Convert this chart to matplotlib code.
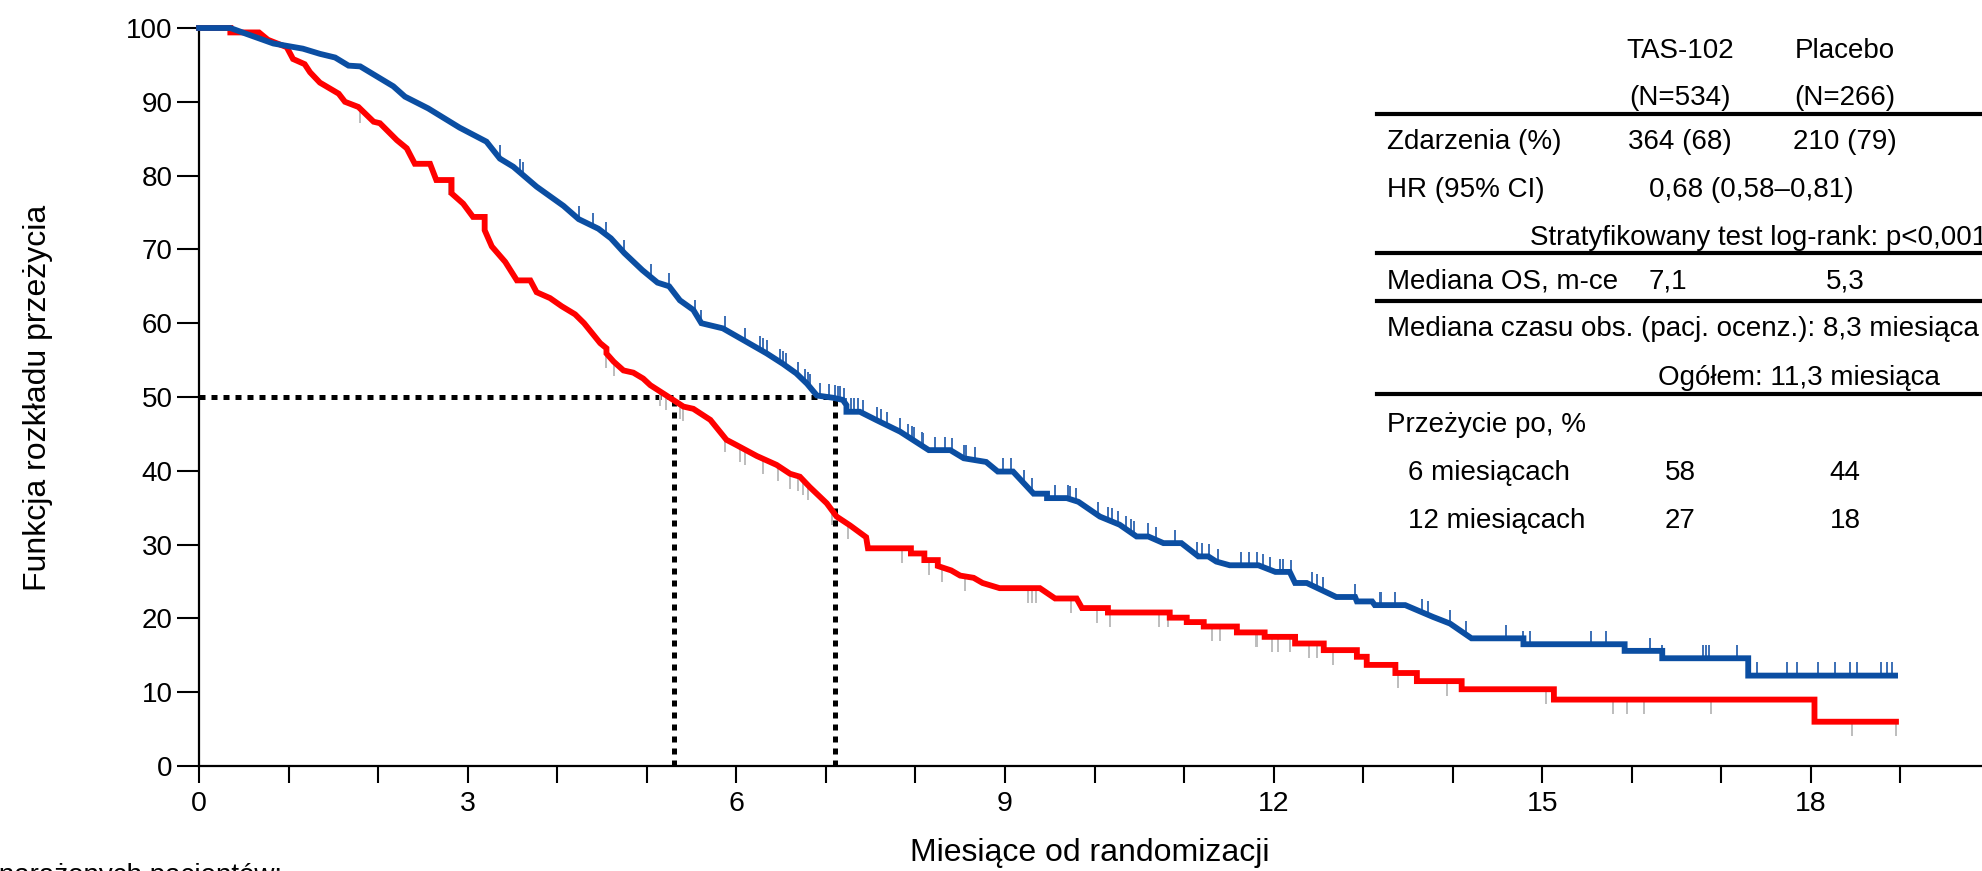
import numpy as np
import matplotlib.pyplot as plt
from matplotlib.lines import Line2D

W, H = 1982, 871

# Kaplan-Meier curves (months, % surviving)
tas_t = [0, 0.35, 0.53, 0.83, 1.16, 1.35, 1.52, 1.67, 1.80, 2.17, 2.30, 2.56, 2.91,
         3.21, 3.36, 3.51, 3.77, 4.07, 4.24, 4.46, 4.60, 4.75, 4.95, 5.12, 5.25, 5.37,
         5.52, 5.61, 5.85, 6.11, 6.34, 6.52, 6.67, 6.79, 6.90, 7.08, 7.19, 7.23, 7.23,
         7.38, 7.56, 7.83, 8.15, 8.39, 8.54, 8.79, 8.92, 9.09, 9.32, 9.47, 9.47, 9.69,
         9.82, 10.06, 10.28, 10.47, 10.60, 10.77, 10.97, 11.16, 11.27, 11.36, 11.51,
         11.83, 12.02, 12.18, 12.24, 12.37, 12.70, 12.91, 12.93, 13.10, 13.13, 13.47,
         13.78, 13.97, 14.21, 14.79, 14.79, 15.92, 15.92, 16.34, 16.34, 17.30, 17.30, 18.94]
tas_s = [100, 100, 99.2, 97.9, 97.2, 96.5, 96.0, 94.9, 94.8, 92.1, 90.7, 89.1, 86.5,
         84.6, 82.3, 81.2, 78.5, 75.9, 74.1, 72.8, 71.5, 69.5, 67.2, 65.5, 65.0, 63.1,
         61.8, 60.0, 59.3, 57.5, 55.9, 54.5, 53.2, 51.8, 50.2, 49.9, 49.6, 48.9, 48.0,
         48.0, 46.9, 45.3, 42.8, 42.8, 41.7, 41.2, 39.9, 39.9, 36.9, 36.9, 36.3, 36.3,
         35.8, 33.8, 32.7, 31.1, 31.1, 30.2, 30.2, 28.4, 28.4, 27.7, 27.2,
         27.2, 26.3, 26.3, 24.8, 24.8, 22.9, 22.9, 22.3, 22.3, 21.8, 21.8,
         20.2, 19.3, 17.3, 17.3, 16.5, 16.5, 15.6, 15.6, 14.6, 14.6, 12.25, 12.25]

plc_t = [0, 0.35, 0.35, 0.67, 0.77, 0.98, 1.05, 1.18, 1.24, 1.35, 1.56, 1.63, 1.78,
         1.95, 2.02, 2.21, 2.32, 2.41, 2.58, 2.65, 2.82, 2.82, 2.95, 3.06, 3.19, 3.19,
         3.27, 3.42, 3.55, 3.70, 3.77, 3.92, 4.05, 4.20, 4.30, 4.40, 4.48, 4.55, 4.55,
         4.63, 4.74, 4.85, 4.96, 5.04, 5.22, 5.41, 5.52, 5.71, 5.89, 6.00, 6.23, 6.45,
         6.60, 6.71, 6.82, 7.01, 7.12, 7.27, 7.45, 7.47, 7.95, 7.95, 8.10, 8.10, 8.25,
         8.25, 8.40, 8.50, 8.65, 8.75, 8.94, 9.39, 9.56, 9.80, 9.86, 10.15, 10.15, 10.84,
         10.84, 11.03, 11.03, 11.22, 11.22, 11.59, 11.59, 11.90, 11.90, 12.24, 12.24,
         12.56, 12.56, 12.93, 12.93, 13.04, 13.04, 13.36, 13.36, 13.60, 13.60, 14.10,
         14.10, 15.13, 15.13, 18.04, 18.04, 18.95]
plc_s = [100, 100, 99.4, 99.4, 98.4, 97.4, 95.8, 95.1, 94.0, 92.6, 91.1, 90.0, 89.3,
         87.3, 87.1, 84.8, 83.7, 81.6, 81.6, 79.4, 79.4, 77.6, 76.2, 74.4, 74.4, 72.6,
         70.4, 68.3, 65.8, 65.8, 64.2, 63.4, 62.3, 61.2, 60.0, 58.5, 57.3, 56.6, 55.9,
         54.8, 53.6, 53.3, 52.5, 51.6, 50.2, 48.7, 48.4, 46.9, 44.2, 43.5, 42.0, 40.8,
         39.6, 39.2, 37.8, 35.6, 33.8, 32.6, 31.0, 29.5, 29.5, 28.8, 28.8, 27.9, 27.9,
         27.1, 26.5, 25.8, 25.5, 24.8, 24.1, 24.1, 22.7, 22.7, 21.4, 21.4, 20.8, 20.8,
         20.1, 20.1, 19.5, 19.5, 18.9, 18.9, 18.1, 18.1, 17.5, 17.5, 16.6,
         16.6, 15.7, 15.7, 14.8, 14.8, 13.7, 13.7, 12.6, 12.6, 11.5, 11.5,
         10.4, 10.4, 9.0, 9.0, 6.0, 6.0]

# censored patients (months)
tas_cens = [3.36, 3.58, 3.62, 4.24, 4.40, 4.55, 4.75, 5.05, 5.25, 5.54, 5.61, 5.87,
            6.10, 6.26, 6.30, 6.34, 6.49, 6.52, 6.56, 6.69, 6.77, 6.80, 6.82, 6.93,
            7.03, 7.10, 7.14, 7.16, 7.20, 7.23, 7.28, 7.31, 7.36, 7.42, 7.57, 7.62,
            7.68, 7.83, 7.92, 7.96, 7.98, 8.07, 8.09, 8.22, 8.33, 8.41, 8.54, 8.57,
            8.67, 8.98, 9.07, 9.21, 9.30, 9.56, 9.70, 9.73, 9.79, 10.04, 10.15, 10.20,
            10.26, 10.35, 10.41, 10.44, 10.60, 10.69, 10.90, 11.14, 11.20, 11.28, 11.38,
            11.64, 11.73, 11.81, 11.88, 11.96, 12.07, 12.10, 12.19, 12.43, 12.48, 12.55,
            12.91, 13.19, 13.20, 13.36, 13.66, 13.72, 13.97, 14.15, 14.60, 14.79, 14.86,
            15.54, 15.71, 16.20, 16.34, 16.80, 16.83, 16.86, 17.17, 17.40, 17.73, 17.85,
            18.08, 18.27, 18.44, 18.52, 18.78, 18.85, 18.91]
plc_cens = [1.80, 2.79, 4.55, 4.63, 5.15, 5.21, 5.37, 5.41, 5.87, 6.04, 6.10, 6.30,
            6.47, 6.60, 6.69, 6.75, 6.80, 7.07, 7.25, 7.85, 8.15, 8.30, 8.55, 9.26,
            9.30, 9.35, 9.74, 10.03, 10.17, 10.72, 10.82, 11.31, 11.40, 11.80, 11.82,
            11.98, 12.05, 12.18, 12.40, 12.48, 12.66, 13.39, 13.94, 15.04, 15.79, 15.95,
            16.14, 16.89, 18.46, 18.95]

med_tas = 7.1
med_plc = 5.3

x_ticks = list(range(0, 20))
x_labels = [str(v) if v % 3 == 0 else "" for v in x_ticks]
y_ticks = list(range(0, 101, 10))

# table text
col_heads = ["TAS-102", "Placebo"]
col_n = ["(N=534)", "(N=266)"]
events = ["364 (68)", "210 (79)"]
hr_text = "0,68 (0,58–0,81)"
logrank = "Stratyfikowany test log-rank: p<0,001"
median_os = ["7,1", "5,3"]
followup = "Mediana czasu obs. (pacj. ocenz.): 8,3 miesiąca"
overall = "Ogółem: 11,3 miesiąca"
surv_rows = ["6 miesiącach", "12 miesiącach"]
surv_tas = ["58", "27"]
surv_plc = ["44", "18"]

blue = "#0b4ea2"
red = "#ff0000"
arial = "Liberation Sans"


def fx(px):
    return px / W


def fy(py):
    return 1 - py / H


fig = plt.figure(figsize=(W / 100, H / 100), dpi=100)
ax = fig.add_axes([fx(199), fy(766), (W - 199) / W, (766 - 28) / H])
ax.set_xlim(0, (W - 199) / 89.55)
ax.set_ylim(0, 100)
for side in ["top", "right"]:
    ax.spines[side].set_visible(False)
for side in ["left", "bottom"]:
    ax.spines[side].set_linewidth(1.6)
ax.spines["left"].set_bounds(0, 100)

# median reference lines
dots = dict(color="black", lw=3.6, linestyle=(0, (1.2, 1.2)), dash_capstyle="butt", zorder=1)
ax.plot([0, med_tas], [50, 50], **dots)
ax.plot([med_plc, med_plc], [0, 50], **dots)
ax.plot([med_tas, med_tas], [0, 50], **dots)

# censor marks
tas_cy = np.interp(tas_cens, tas_t, tas_s)
plc_cy = np.interp(plc_cens, plc_t, plc_s)
ax.vlines(tas_cens, tas_cy, tas_cy + 1.8, color="#3b6fb6", lw=1.4, zorder=2)
ax.vlines(plc_cens, plc_cy - 2.0, plc_cy, color="#bdbdbd", lw=1.4, zorder=2)

ax.plot(plc_t, plc_s, color=red, lw=4.2, solid_joinstyle="miter", zorder=3, clip_on=False)
ax.plot(tas_t, tas_s, color=blue, lw=4.2, solid_joinstyle="miter", zorder=4, clip_on=False)

ax.set_xticks(x_ticks)
ax.set_xticklabels(x_labels, fontsize=20.5, family=arial)
ax.set_yticks(y_ticks)
ax.set_yticklabels([str(v) for v in y_ticks], fontsize=20, family=arial)
ax.tick_params(axis="x", direction="out", length=12, width=1.5, pad=6)
ax.tick_params(axis="y", direction="out", length=16, width=1.5, pad=3)

fig.text(fx(38), fy(398), "Funkcja rozkładu przeżycia", rotation=90, ha="center",
         va="center", fontsize=23, family=arial)
fig.text(fx(1090), fy(853), "Miesiące od randomizacji", ha="center", va="center",
         fontsize=23, family=arial)
fig.text(fx(282), fy(883), "Liczba narażonych pacjentów:", ha="right", va="baseline",
         fontsize=20, family=arial)

# summary table on the right
ts = dict(fontsize=20, family=arial, va="center")
c1, c2 = 1680, 1845
left = 1387
dy = 3
fig.text(fx(c1), fy(48 + dy), col_heads[0], ha="center", **ts)
fig.text(fx(c2), fy(48 + dy), col_heads[1], ha="center", **ts)
fig.text(fx(c1), fy(95 + dy), col_n[0], ha="center", **ts)
fig.text(fx(c2), fy(95 + dy), col_n[1], ha="center", **ts)
fig.text(fx(left), fy(139 + dy), "Zdarzenia (%)", ha="left", **ts)
fig.text(fx(c1), fy(139 + dy), events[0], ha="center", **ts)
fig.text(fx(c2), fy(139 + dy), events[1], ha="center", **ts)
fig.text(fx(left), fy(187 + dy), "HR (95% CI)", ha="left", **ts)
fig.text(fx(1751), fy(187 + dy), hr_text, ha="center", **ts)
fig.text(fx(1530), fy(235 + dy), logrank, ha="left", **ts)
fig.text(fx(left), fy(278 + dy), "Mediana OS, m-ce", ha="left", **ts)
fig.text(fx(1668), fy(278 + dy), median_os[0], ha="center", **ts)
fig.text(fx(c2), fy(278 + dy), median_os[1], ha="center", **ts)
fig.text(fx(left), fy(326 + dy), followup, ha="left", **ts)
fig.text(fx(1658), fy(375 + dy), overall, ha="left", **ts)
fig.text(fx(left), fy(422 + dy), "Przeżycie po, %", ha="left", **ts)
for i, lab in enumerate(surv_rows):
    yy = 470 + 48 * i + dy
    fig.text(fx(1408), fy(yy), lab, ha="left", **ts)
    fig.text(fx(c1), fy(yy), surv_tas[i], ha="center", **ts)
    fig.text(fx(c2), fy(yy), surv_plc[i], ha="center", **ts)

for ly in [114, 253, 301, 394]:
    fig.add_artist(Line2D([fx(1377), 1.0], [fy(ly), fy(ly)], color="black", lw=3,
                          transform=fig.transFigure))

fig.savefig("out.png", dpi=100)
